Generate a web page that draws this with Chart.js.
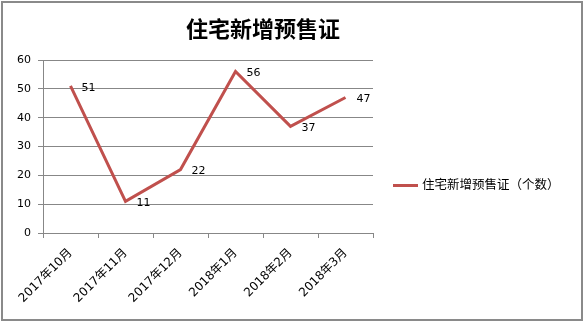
<!DOCTYPE html>
<html>
<head>
<meta charset="utf-8">
<script src="https://cdn.jsdelivr.net/npm/chart.js@4/dist/chart.umd.min.js"></script>
<style>
    body { margin: 0; background: #fff; }
    #frame {
        position: absolute; left: 1px; top: 1px;
        width: 578px; height: 316px;
        border: 2px solid #8a8a8a;
    }
    #salesChart { position: absolute; left: 0; top: 0; }
    #chartTitle {
        position: absolute; left: 0; width: 520px; top: 8px;
        text-align: center;
        font: bold 22px "Noto Sans CJK SC", sans-serif;
        color: #000;
    }
    #chartLegend {
        position: absolute; left: 390px; top: 171px;
        font: 12.5px "Noto Sans CJK SC", sans-serif;
        color: #000; white-space: nowrap;
    }
    #chartLegend .swatch {
        display: inline-block; width: 25px; height: 3px;
        background: #C0504D; vertical-align: middle; margin-right: 4px;
    }
</style>
</head>
<body>
<div id="frame">
    <canvas id="salesChart" width="578" height="316"></canvas>
    <div id="chartTitle">住宅新增预售证</div>
    <div id="chartLegend"><span class="swatch"></span>住宅新增预售证（个数）</div>
</div>
<script>
// Datos del gráfico
const months = ['2017年10月', '2017年11月', '2017年12月', '2018年1月', '2018年2月', '2018年3月'];
const permits = [51, 11, 22, 56, 37, 47];
const yTicks = [0, 10, 20, 30, 40, 50, 60];

const lineColor = '#C0504D';
const gridColor = '#878787';
const labelFont = { family: '"DejaVu Sans", "Noto Sans CJK SC", sans-serif', size: 11 };

// Etiquetas de valor a la derecha de cada punto
const valueLabels = {
    id: 'valueLabels',
    afterDatasetsDraw(chart) {
        const ctx = chart.ctx;
        const meta = chart.getDatasetMeta(0);
        ctx.save();
        ctx.font = '11px "DejaVu Sans", sans-serif';
        ctx.fillStyle = '#000';
        ctx.textAlign = 'left';
        ctx.textBaseline = 'middle';
        meta.data.forEach((pt, i) => {
            ctx.fillText(String(permits[i]), pt.x + 11, pt.y + 2);
        });
        ctx.restore();
    }
};

const ctx = document.getElementById('salesChart').getContext('2d');
new Chart(ctx, {
    type: 'line',
    data: {
        labels: months,
        datasets: [{
            label: '住宅新增预售证（个数）',
            data: permits,
            borderColor: lineColor,
            borderWidth: 3,
            pointRadius: 0,
            tension: 0,
            fill: false
        }]
    },
    options: {
        responsive: false,
        animation: false,
        layout: { padding: { left: 0, top: 57, right: 208, bottom: 0 } },
        plugins: {
            legend: { display: false },
            title: { display: false },
            tooltip: { enabled: false }
        },
        scales: {
            x: {
                offset: true,
                grid: {
                    offset: true,
                    drawOnChartArea: false,
                    color: gridColor,
                    tickLength: 5
                },
                border: { color: gridColor, width: 1 },
                ticks: {
                    color: '#000',
                    font: { family: labelFont.family, size: 12 },
                    minRotation: 45,
                    maxRotation: 45,
                    padding: 8,
                    autoSkip: false
                },
                afterFit(scale) { scale.height = 86; }
            },
            y: {
                min: 0,
                max: 60,
                afterBuildTicks(scale) { scale.ticks = yTicks.map(v => ({ value: v })); },
                grid: { color: gridColor, tickLength: 5 },
                border: { color: gridColor, width: 1 },
                ticks: {
                    color: '#000',
                    font: labelFont,
                    padding: 7
                },
                afterFit(scale) { scale.width = 40; }
            }
        }
    },
    plugins: [valueLabels]
});
</script>
</body>
</html>
